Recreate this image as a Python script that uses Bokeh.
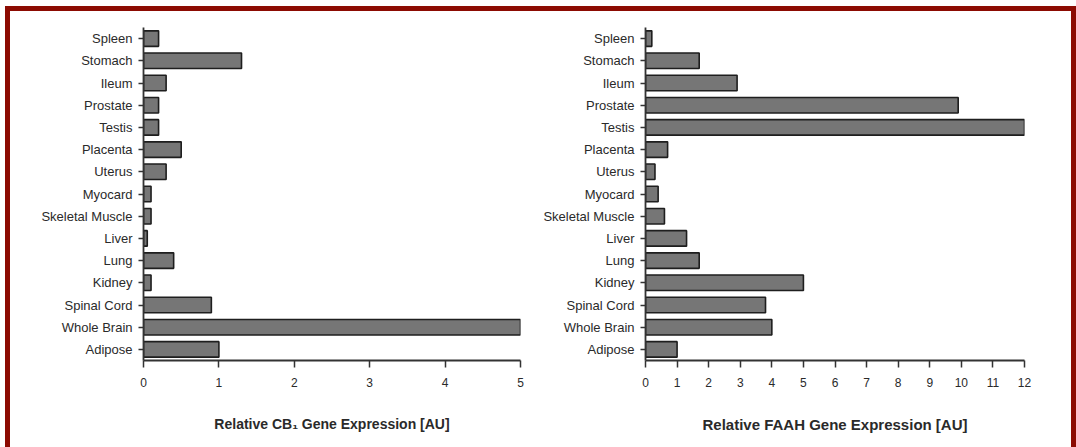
from bokeh.plotting import figure
from bokeh.layouts import row
from bokeh.models import Range1d, FactorRange, FixedTicker
from bokeh.embed import file_html
from bokeh.resources import INLINE

tissues = ["Spleen", "Stomach", "Ileum", "Prostate", "Testis", "Placenta", "Uterus",
           "Myocard", "Skeletal Muscle", "Liver", "Lung", "Kidney", "Spinal Cord",
           "Whole Brain", "Adipose"]
cb1_values = [0.2, 1.3, 0.3, 0.2, 0.2, 0.5, 0.3, 0.1, 0.1, 0.05, 0.4, 0.1, 0.9, 5.0, 1.0]
faah_values = [0.2, 1.7, 2.9, 9.9, 12.0, 0.7, 0.3, 0.4, 0.6, 1.3, 1.7, 5.0, 3.8, 4.0, 1.0]
cb1_ticks = [0, 1, 2, 3, 4, 5]
faah_ticks = list(range(0, 13))

FONT = "Liberation Sans"
TXT = "#2a2a2a"


def make(values, xmax, ticks, title, w, left, right, title_size):
    p = figure(width=w, height=436, output_backend="svg", toolbar_location=None,
               x_range=Range1d(0, xmax),
               y_range=FactorRange(factors=list(reversed(tissues)), range_padding=0),
               min_border_left=left, min_border_right=right,
               min_border_top=16, min_border_bottom=87)
    p.hbar(y=tissues, right=values, left=0, height=0.7,
           fill_color="#767676", line_color="#1e1e1e", line_width=1.6)
    p.xgrid.visible = False
    p.ygrid.visible = False
    p.outline_line_color = None
    p.background_fill_color = "white"
    p.border_fill_color = "white"

    xa = p.xaxis[0]
    xa.ticker = FixedTicker(ticks=ticks)
    xa.minor_tick_line_color = None
    xa.major_tick_out = 7
    xa.major_tick_in = 0
    xa.major_tick_line_width = 1.5
    xa.major_tick_line_color = "#333333"
    xa.axis_line_width = 1.8
    xa.axis_line_color = "#333333"
    xa.major_label_text_font = FONT
    xa.major_label_text_font_size = "12px"
    xa.major_label_text_color = TXT
    xa.major_label_standoff = 10
    xa.axis_label = title
    xa.axis_label_text_font = FONT
    xa.axis_label_text_font_size = title_size
    xa.axis_label_text_font_style = "bold"
    xa.axis_label_text_color = TXT
    xa.axis_label_standoff = 26

    ya = p.yaxis[0]
    ya.major_tick_out = 5
    ya.major_tick_in = 0
    ya.major_tick_line_width = 1.5
    ya.major_tick_line_color = "#333333"
    ya.axis_line_width = 1.8
    ya.axis_line_color = "#333333"
    ya.major_label_text_font = FONT
    ya.major_label_text_font_size = "13px"
    ya.major_label_text_color = TXT
    ya.major_label_standoff = 6
    return p


p1 = make(cb1_values, 5, cb1_ticks, "Relative CB\u2081 Gene Expression [AU]", 525, 133, 15, "14px")
p2 = make(faah_values, 12, faah_ticks, "Relative FAAH Gene Expression [AU]", 536, 110, 47, "15px")

layout = row(p1, p2, styles={"border-top": "5px solid #8c0b02",
                              "border-left": "5px solid #8c0b02",
                              "border-right": "5px solid #8c0b02",
                              "margin-left": "5px",
                              "margin-top": "6px",
                              "background-color": "white"})

open("out.html", "w").write(file_html(layout, INLINE))
